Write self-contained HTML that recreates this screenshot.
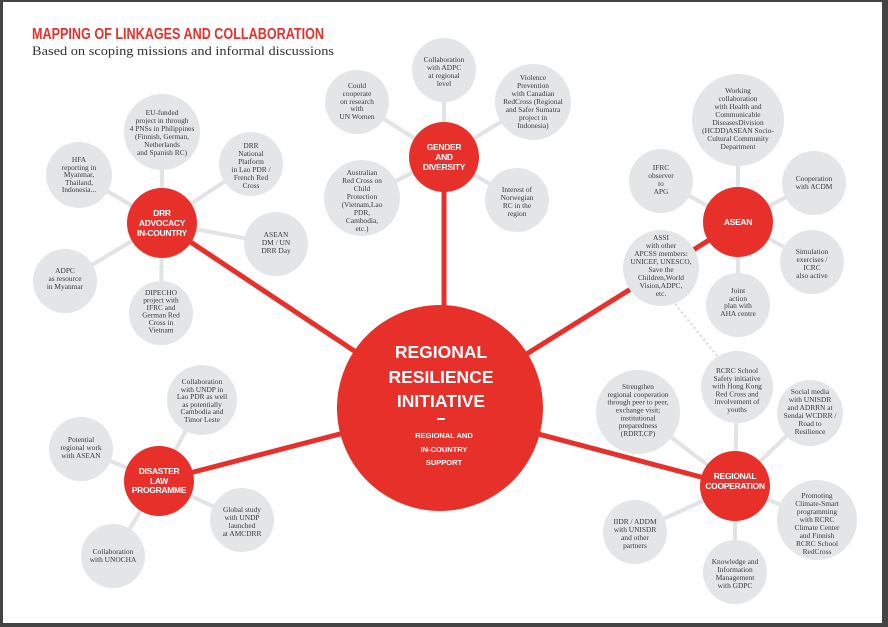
<!DOCTYPE html>
<html><head><meta charset="utf-8"><style>
html,body{margin:0;padding:0;background:#fff}
svg{display:block}
.g{fill:#e4e5e7}
.s{stroke:#e2e3e5;stroke-width:4}
.r{stroke:#e8302a;stroke-width:5}
.t{font-family:"Liberation Serif",serif;font-size:7.4px;fill:#3a3a3a;text-anchor:middle}
.h{font-family:"Liberation Sans",sans-serif;font-weight:bold;font-size:8.5px;fill:#fff;text-anchor:middle;letter-spacing:-0.3px}
</style></head><body>
<svg width="888" height="627" viewBox="0 0 888 627" xmlns="http://www.w3.org/2000/svg">
<rect x="0" y="0" width="888" height="627" fill="#fff"/>
<rect x="0" y="0" width="888" height="2" fill="#444"/>
<rect x="0" y="0" width="3" height="627" fill="#444"/>
<rect x="882" y="0" width="6" height="627" fill="#444"/>
<rect x="0" y="623" width="888" height="4" fill="#444"/>
<text x="32" y="39" font-family="Liberation Sans,sans-serif" font-weight="bold" font-size="15.5" fill="#e8302a" textLength="292" lengthAdjust="spacingAndGlyphs">MAPPING OF LINKAGES AND COLLABORATION</text>
<text x="32" y="55" font-family="Liberation Serif,serif" font-size="13" fill="#333" textLength="302" lengthAdjust="spacingAndGlyphs">Based on scoping missions and informal discussions</text>

<!-- spokes -->
<g class="s">
<line x1="162" y1="223" x2="162" y2="132"/><line x1="162" y1="223" x2="79" y2="175"/><line x1="162" y1="223" x2="251" y2="164"/><line x1="162" y1="223" x2="276" y2="244"/><line x1="162" y1="223" x2="65" y2="281"/><line x1="162" y1="223" x2="161" y2="313"/>
<line x1="444" y1="157" x2="444" y2="70"/><line x1="444" y1="157" x2="357" y2="102"/><line x1="444" y1="157" x2="533" y2="102"/><line x1="444" y1="157" x2="362" y2="198"/><line x1="444" y1="157" x2="517" y2="200"/>
<line x1="738" y1="222" x2="738" y2="120"/><line x1="738" y1="222" x2="661" y2="181"/><line x1="738" y1="222" x2="814" y2="183"/><line x1="738" y1="222" x2="812" y2="262"/><line x1="738" y1="222" x2="738" y2="305"/>
<line x1="159" y1="481" x2="202" y2="400"/><line x1="159" y1="481" x2="81" y2="449"/><line x1="159" y1="481" x2="242" y2="520"/><line x1="159" y1="481" x2="113" y2="556"/>
<line x1="735" y1="486" x2="638" y2="412"/><line x1="735" y1="486" x2="737" y2="387"/><line x1="735" y1="486" x2="810" y2="413"/><line x1="735" y1="486" x2="817" y2="520"/><line x1="735" y1="486" x2="635" y2="532"/><line x1="735" y1="486" x2="735" y2="572"/>
</g>
<line x1="672" y1="300" x2="722" y2="362" stroke="#d5d6d8" stroke-width="2" stroke-dasharray="2,3"/>
<!-- red lines -->
<g class="r">
<line x1="440" y1="408" x2="162" y2="223"/><line x1="444" y1="157" x2="444" y2="310"/><line x1="440" y1="408" x2="738" y2="222"/><line x1="440" y1="408" x2="159" y2="481"/><line x1="440" y1="408" x2="735" y2="486"/>
</g>
<!-- gray circles -->
<g class="g">
<circle cx="162" cy="132" r="38"/><circle cx="79" cy="175" r="33"/><circle cx="251" cy="164" r="32"/><circle cx="276" cy="244" r="32"/><circle cx="65" cy="281" r="32"/><circle cx="161" cy="313" r="32"/>
<circle cx="444" cy="70" r="32"/><circle cx="357" cy="102" r="32"/><circle cx="533" cy="102" r="38"/><circle cx="362" cy="198" r="38"/><circle cx="517" cy="200" r="32"/>
<circle cx="738" cy="120" r="46"/><circle cx="661" cy="181" r="32"/><circle cx="814" cy="183" r="32"/><circle cx="661" cy="268" r="38"/><circle cx="812" cy="262" r="32"/><circle cx="738" cy="305" r="32"/>
<circle cx="202" cy="400" r="35"/><circle cx="81" cy="449" r="32"/><circle cx="242" cy="520" r="32"/><circle cx="113" cy="556" r="32"/>
<circle cx="638" cy="412" r="42"/><circle cx="737" cy="387" r="36"/><circle cx="810" cy="413" r="33"/><circle cx="817" cy="520" r="40"/><circle cx="635" cy="532" r="32"/><circle cx="735" cy="572" r="32"/>
</g>
<!-- red hubs -->
<g fill="#e8302a">
<circle cx="440" cy="408" r="103"/>
<circle cx="162" cy="223" r="35"/><circle cx="444" cy="157" r="35"/><circle cx="738" cy="222" r="35"/><circle cx="159" cy="481" r="35"/><circle cx="735" cy="486" r="35"/>
</g>
<!-- hub labels -->
<text class="h" x="162" y="216">DRR</text><text class="h" x="162" y="226">ADVOCACY</text><text class="h" x="162" y="236">IN-COUNTRY</text>
<text class="h" x="444" y="150">GENDER</text><text class="h" x="444" y="160">AND</text><text class="h" x="444" y="170">DIVERSITY</text>
<text class="h" x="738" y="225">ASEAN</text>
<text class="h" x="159" y="474">DISASTER</text><text class="h" x="159" y="484">LAW</text><text class="h" x="159" y="493">PROGRAMME</text>
<text class="h" x="735" y="479">REGIONAL</text><text class="h" x="735" y="489">COOPERATION</text>
<g font-family="Liberation Sans,sans-serif" font-weight="bold" fill="#fff" text-anchor="middle">
<text x="441" y="358" font-size="17.5">REGIONAL</text>
<text x="441" y="383" font-size="17.5">RESILIENCE</text>
<text x="441" y="407" font-size="17.5">INITIATIVE</text>
<rect x="437" y="418" width="8" height="2"/>
<text x="444" y="438" font-size="7.5">REGIONAL AND</text>
<text x="444" y="452" font-size="7.5">IN-COUNTRY</text>
<text x="444" y="465" font-size="7.5">SUPPORT</text>
</g>
<!-- gray labels -->
<g class="t">
<text x="162" y="115"><tspan x="162">EU-funded</tspan><tspan x="162" dy="8">project in through</tspan><tspan x="162" dy="8">4 PNSs in Philippines</tspan><tspan x="162" dy="8">(Finnish, German,</tspan><tspan x="162" dy="8">Netherlands</tspan><tspan x="162" dy="8">and Spanish RC)</tspan></text>
<text x="79" y="162"><tspan x="79">HFA</tspan><tspan x="79" dy="8">reporting in</tspan><tspan x="79" dy="7">Myanmar,</tspan><tspan x="79" dy="8">Thailand,</tspan><tspan x="79" dy="7">Indonesia...</tspan></text>
<text x="251" y="148"><tspan x="251">DRR</tspan><tspan x="251" dy="8">National</tspan><tspan x="251" dy="8">Platform</tspan><tspan x="251" dy="8">in Lao PDR /</tspan><tspan x="251" dy="8">French Red</tspan><tspan x="251" dy="8">Cross</tspan></text>
<text x="276" y="237"><tspan x="276">ASEAN</tspan><tspan x="276" dy="8">DM / UN</tspan><tspan x="276" dy="8">DRR Day</tspan></text>
<text x="65" y="273"><tspan x="65">ADPC</tspan><tspan x="65" dy="8">as resource</tspan><tspan x="65" dy="8">in Myanmar</tspan></text>
<text x="161" y="295"><tspan x="161">DIPECHO</tspan><tspan x="161" dy="7.5">project with</tspan><tspan x="161" dy="7.5">IFRC and</tspan><tspan x="161" dy="7.5">German Red</tspan><tspan x="161" dy="7.5">Cross in</tspan><tspan x="161" dy="7.5">Vietnam</tspan></text>
<text x="444" y="62"><tspan x="444">Collaboration</tspan><tspan x="444" dy="8">with ADPC</tspan><tspan x="444" dy="8">at regional</tspan><tspan x="444" dy="8">level</tspan></text>
<text x="357" y="88"><tspan x="357">Could</tspan><tspan x="357" dy="8">cooperate</tspan><tspan x="357" dy="8">on research</tspan><tspan x="357" dy="7">with</tspan><tspan x="357" dy="8">UN Women</tspan></text>
<text x="533" y="80"><tspan x="533">Violence</tspan><tspan x="533" dy="8">Prevention</tspan><tspan x="533" dy="8">with Canadian</tspan><tspan x="533" dy="8">RedCross (Regional</tspan><tspan x="533" dy="8">and Safer Sumatra</tspan><tspan x="533" dy="8">project in</tspan><tspan x="533" dy="8">Indonesia)</tspan></text>
<text x="362" y="175"><tspan x="362">Australian</tspan><tspan x="362" dy="8">Red Cross on</tspan><tspan x="362" dy="8">Child</tspan><tspan x="362" dy="8">Protection</tspan><tspan x="362" dy="8">(Vietnam,Lao</tspan><tspan x="362" dy="8">PDR,</tspan><tspan x="362" dy="8">Cambodia,</tspan><tspan x="362" dy="8">etc.)</tspan></text>
<text x="517" y="192"><tspan x="517">Interest of</tspan><tspan x="517" dy="8">Norwegian</tspan><tspan x="517" dy="8">RC in the</tspan><tspan x="517" dy="8">region</tspan></text>
<text x="738" y="93"><tspan x="738">Working</tspan><tspan x="738" dy="8">collaboration</tspan><tspan x="738" dy="8">with Health and</tspan><tspan x="738" dy="8">Communicable</tspan><tspan x="738" dy="8">DiseasesDivision</tspan><tspan x="738" dy="8">(HCDD)ASEAN Socio-</tspan><tspan x="738" dy="8">Cultural Community</tspan><tspan x="738" dy="8">Department</tspan></text>
<text x="661" y="170"><tspan x="661">IFRC</tspan><tspan x="661" dy="8">observer</tspan><tspan x="661" dy="8">to</tspan><tspan x="661" dy="8">APG</tspan></text>
<text x="814" y="181"><tspan x="814">Cooperation</tspan><tspan x="814" dy="8">with ACDM</tspan></text>
<text x="661" y="240"><tspan x="661">ASSI</tspan><tspan x="661" dy="8">with other</tspan><tspan x="661" dy="8">APCSS members:</tspan><tspan x="661" dy="8">UNICEF, UNESCO,</tspan><tspan x="661" dy="8">Save the</tspan><tspan x="661" dy="8">Children,World</tspan><tspan x="661" dy="8">Vision,ADPC,</tspan><tspan x="661" dy="8">etc.</tspan></text>
<text x="812" y="254"><tspan x="812">Simulation</tspan><tspan x="812" dy="8">exercises /</tspan><tspan x="812" dy="8">ICRC</tspan><tspan x="812" dy="8">also active</tspan></text>
<text x="738" y="293"><tspan x="738">Joint</tspan><tspan x="738" dy="8">action</tspan><tspan x="738" dy="7">plan with</tspan><tspan x="738" dy="8">AHA centre</tspan></text>
<text x="202" y="384"><tspan x="202">Collaboration</tspan><tspan x="202" dy="8">with UNDP in</tspan><tspan x="202" dy="7">Lao PDR as well</tspan><tspan x="202" dy="8">as potentially</tspan><tspan x="202" dy="7">Cambodia and</tspan><tspan x="202" dy="8">Timor Leste</tspan></text>
<text x="81" y="442"><tspan x="81">Potential</tspan><tspan x="81" dy="8">regional work</tspan><tspan x="81" dy="8">with ASEAN</tspan></text>
<text x="242" y="512"><tspan x="242">Global study</tspan><tspan x="242" dy="8">with UNDP</tspan><tspan x="242" dy="8">launched</tspan><tspan x="242" dy="8">at AMCDRR</tspan></text>
<text x="113" y="554"><tspan x="113">Collaboration</tspan><tspan x="113" dy="8">with UNOCHA</tspan></text>
<text x="638" y="389"><tspan x="638">Strengthen</tspan><tspan x="638" dy="8">regional cooperation</tspan><tspan x="638" dy="7.5">through peer to peer,</tspan><tspan x="638" dy="8">exchange visit;</tspan><tspan x="638" dy="8">institutional</tspan><tspan x="638" dy="7.5">preparedness</tspan><tspan x="638" dy="8">(RDRT,CP)</tspan></text>
<text x="737" y="373"><tspan x="737">RCRC School</tspan><tspan x="737" dy="8">Safety initiative</tspan><tspan x="737" dy="7.5">with Hong Kong</tspan><tspan x="737" dy="8">Red Cross and</tspan><tspan x="737" dy="7.5">involvement of</tspan><tspan x="737" dy="8">youths</tspan></text>
<text x="810" y="394"><tspan x="810">Social media</tspan><tspan x="810" dy="8">with UNISDR</tspan><tspan x="810" dy="8">and ADRRN at</tspan><tspan x="810" dy="8">Sendai WCDRR /</tspan><tspan x="810" dy="8">Road to</tspan><tspan x="810" dy="8">Resilience</tspan></text>
<text x="817" y="498"><tspan x="817">Promoting</tspan><tspan x="817" dy="8">Climate-Smart</tspan><tspan x="817" dy="8">programming</tspan><tspan x="817" dy="8">with RCRC</tspan><tspan x="817" dy="8">Climate Center</tspan><tspan x="817" dy="8">and Finnish</tspan><tspan x="817" dy="8">RCRC School</tspan><tspan x="817" dy="8">RedCross</tspan></text>
<text x="635" y="524"><tspan x="635">IIDR / ADDM</tspan><tspan x="635" dy="8">with UNISDR</tspan><tspan x="635" dy="8">and other</tspan><tspan x="635" dy="8">partners</tspan></text>
<text x="735" y="564"><tspan x="735">Knowledge and</tspan><tspan x="735" dy="8">Information</tspan><tspan x="735" dy="8">Management</tspan><tspan x="735" dy="8">with GDPC</tspan></text>
</g>
</svg>
</body></html>
